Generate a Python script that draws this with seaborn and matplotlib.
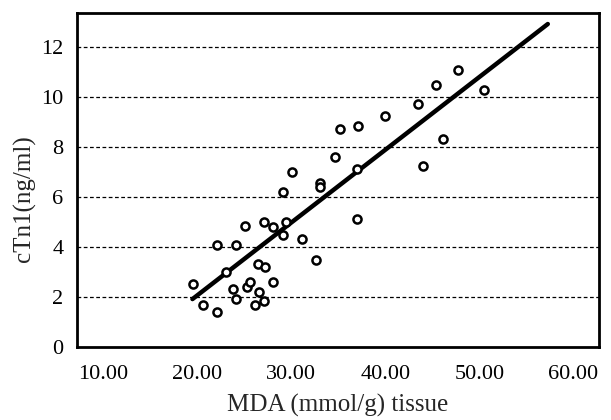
import numpy as np
import pandas as pd
import matplotlib
matplotlib.use("Agg")
import matplotlib.pyplot as plt
import seaborn as sns

# MDA (mmol/g tissue) vs cTn1 (ng/ml)
mda = [19.52, 20.60, 22.09, 22.09, 23.08, 23.74, 24.11, 24.11, 25.07, 25.27,
       25.65, 26.10, 26.47, 26.60, 27.09, 27.18, 27.09, 28.00, 28.09, 29.08,
       29.12, 29.45, 30.07, 31.11, 32.60, 33.05, 33.05, 34.67, 35.12, 37.03,
       37.03, 37.11, 39.93, 43.49, 44.02, 45.39, 46.09, 47.75, 50.44]
ctn1 = [2.50, 1.68, 1.38, 4.07, 2.99, 2.31, 1.90, 4.07, 4.82, 2.39,
        2.60, 1.67, 3.30, 2.20, 5.01, 3.18, 1.82, 2.59, 4.79, 6.21,
        4.49, 5.01, 7.01, 4.30, 3.48, 6.54, 6.38, 7.61, 8.73, 7.12,
        5.11, 8.84, 9.25, 9.73, 7.22, 10.47, 8.32, 11.09, 10.29]

# fitted line as drawn in the figure
fit_slope = 0.2914
fit_intercept = -3.77
fit_x = [19.48, 57.27]

x_ticks = [10, 20, 30, 40, 50, 60]
y_ticks = [0, 2, 4, 6, 8, 10, 12]

df = pd.DataFrame({"MDA": mda, "cTn1": ctn1})
line_df = pd.DataFrame({"x": fit_x})
line_df["y"] = fit_intercept + fit_slope * line_df["x"]

sns.set_style("white")
plt.rcParams["font.family"] = ["Liberation Serif", "DejaVu Serif"]

fig = plt.figure(figsize=(6.11, 4.2), dpi=100)
ax = fig.add_axes([0.1255, 0.1745, 0.8545, 0.794])

# dashed reference lines at each y tick
for yv in y_ticks[1:]:
    ax.axhline(yv, color="black", lw=0.9, ls=(0, (3, 2)), zorder=1)

sns.lineplot(data=line_df, x="x", y="y", color="black", lw=3.2, ax=ax, zorder=2)
sns.scatterplot(data=df, x="MDA", y="cTn1", marker="o", s=34,
                facecolor="white", edgecolor="black", linewidth=1.8, ax=ax, zorder=3)

ax.set_xlim(7.17, 62.69)
ax.set_ylim(0, 13.35)
ax.set_xticks(x_ticks)
ax.set_xticklabels([f"{v:.2f}" for v in x_ticks])
ax.set_yticks(y_ticks)
ax.tick_params(axis="x", direction="out", length=5, width=1.6, labelsize=16, pad=8, colors="black")
ax.tick_params(axis="y", direction="out", length=4.5, width=1.6, labelsize=16, pad=5, colors="black")
ax.set_xlabel("MDA (mmol/g) tissue", fontsize=18, labelpad=7)
ax.set_ylabel("cTn1(ng/ml)", fontsize=18)
ax.yaxis.set_label_coords(-0.077, 0.443)

for sp in ax.spines.values():
    sp.set_visible(True)
    sp.set_color("black")
    sp.set_linewidth(2)

fig.savefig("out.png", dpi=100)
